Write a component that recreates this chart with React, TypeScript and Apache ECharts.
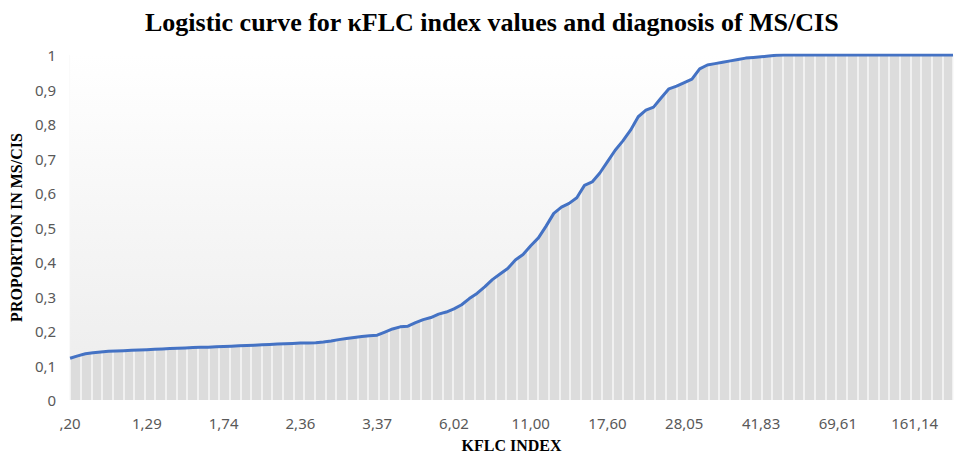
import React, { useEffect, useRef } from 'react';
import * as echarts from 'echarts';

// κFLC index tick labels (every 10th category on the axis)
const kflcTickLabels = [',20', '1,29', '1,74', '2,36', '3,37', '6,02', '11,00', '17,60', '28,05', '41,83', '69,61', '161,14'];

// Proportion in MS/CIS along the ordered κFLC index values
const proportionMS = [
  0.121, 0.128, 0.134, 0.137, 0.139, 0.141, 0.142, 0.143, 0.144, 0.145,
  0.146, 0.147, 0.148, 0.149, 0.150, 0.151, 0.152, 0.153, 0.153, 0.154,
  0.155, 0.156, 0.157, 0.158, 0.159, 0.160, 0.161, 0.162, 0.163, 0.164,
  0.165, 0.165, 0.166, 0.168, 0.171, 0.175, 0.178, 0.181, 0.184, 0.186,
  0.188, 0.197, 0.206, 0.212, 0.214, 0.224, 0.233, 0.239, 0.249, 0.255,
  0.264, 0.276, 0.294, 0.309, 0.328, 0.349, 0.365, 0.381, 0.406, 0.422,
  0.447, 0.470, 0.504, 0.541, 0.559, 0.570, 0.586, 0.622, 0.632, 0.658,
  0.691, 0.724, 0.751, 0.782, 0.821, 0.840, 0.849, 0.876, 0.902, 0.910,
  0.920, 0.930, 0.960, 0.971, 0.975, 0.979, 0.983, 0.987, 0.991, 0.993,
  0.995, 0.997, 0.999, 1, 1, 1, 1, 1, 1, 1,
  1, 1, 1, 1, 1, 1, 1, 1, 1, 1,
  1, 1, 1, 1, 1, 1,
];

const LABEL_STEP = 10;
const SEPARATOR_COUNT = 83;

const categories = proportionMS.map((_, i) =>
  i % LABEL_STEP === 0 ? (kflcTickLabels[i / LABEL_STEP] ?? '') : ''
);
const separatorBands = Array.from({ length: SEPARATOR_COUNT }, (_, i) => String(i));

const LABEL_FONT = 'Noto Sans';
const SERIF = 'Liberation Serif';

export default function App() {
  const ref = useRef<HTMLDivElement>(null);

  useEffect(() => {
    if (!ref.current) return;
    const chart = echarts.init(ref.current, null, { renderer: 'svg' });
    const upperGradient = new echarts.graphic.LinearGradient(
      0, 55, 0, 400,
      [
        { offset: 0, color: '#ffffff' },
        { offset: 1, color: '#ececec' },
      ],
      true
    );
    chart.setOption({
      animation: false,
      backgroundColor: '#ffffff',
      title: {
        text: 'Logistic curve for κFLC index values and diagnosis of MS/CIS',
        left: 140,
        top: 4,
        textStyle: { fontFamily: SERIF, fontWeight: 'bold', fontSize: 26, color: '#000000' },
      },
      grid: { left: 70, right: 2, top: 55, bottom: 58 },
      xAxis: [
        {
          type: 'category',
          data: categories,
          boundaryGap: false,
          axisLine: { show: false },
          axisTick: { show: false },
          splitLine: { show: false },
          axisLabel: { interval: LABEL_STEP - 1, color: '#595959', fontSize: 15, margin: 15, fontFamily: LABEL_FONT },
          name: 'KFLC INDEX',
          nameLocation: 'middle',
          nameGap: 37,
          nameTextStyle: { fontFamily: SERIF, fontWeight: 'bold', fontSize: 16, color: '#000000' },
          z: 0,
        },
        {
          type: 'category',
          gridIndex: 0,
          data: separatorBands,
          boundaryGap: true,
          position: 'bottom',
          axisLine: { show: false },
          axisTick: { show: false },
          axisLabel: { show: false },
          splitLine: { show: true, interval: 0, lineStyle: { color: '#f9f9f9', width: 1.5 } },
          z: 5,
        },
      ],
      yAxis: {
        type: 'value',
        min: 0,
        max: 1,
        interval: 0.1,
        splitLine: { show: false },
        axisLine: { show: false },
        axisTick: { show: false },
        axisLabel: {
          color: '#595959',
          fontSize: 15,
          margin: 14,
          fontFamily: LABEL_FONT,
          formatter: (v: number) => String(Math.round(v * 10) / 10).replace('.', ','),
        },
        name: 'PROPORTION IN MS/CIS',
        nameLocation: 'middle',
        nameGap: 42,
        nameTextStyle: { fontFamily: SERIF, fontWeight: 'bold', fontSize: 16, color: '#000000' },
      },
      series: [
        {
          type: 'line',
          data: proportionMS,
          symbol: 'none',
          lineStyle: { width: 0 },
          areaStyle: { color: '#dcdcdc', opacity: 1 },
          z: 1,
          silent: true,
        },
        {
          type: 'line',
          data: proportionMS,
          symbol: 'none',
          lineStyle: { width: 0 },
          areaStyle: { color: upperGradient, origin: 'end', opacity: 1 },
          z: 6,
          silent: true,
        },
        {
          type: 'line',
          data: proportionMS,
          symbol: 'none',
          lineStyle: { color: '#4472C4', width: 3 },
          z: 7,
        },
      ],
    });
    return () => chart.dispose();
  }, []);

  return (
    <div
      ref={ref}
      style={{ position: 'fixed', left: 0, top: 0, width: 955, height: 458 }}
    />
  );
}
